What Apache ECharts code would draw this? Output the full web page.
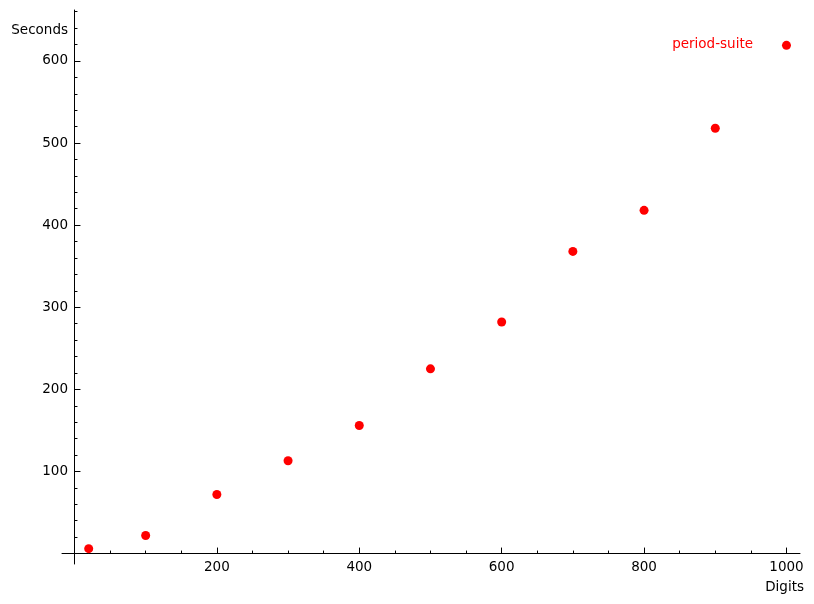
<!DOCTYPE html>
<html>
<head>
<meta charset="utf-8">
<script src="https://cdn.jsdelivr.net/npm/echarts@6/dist/echarts.min.js"></script>
<style>
  html, body { margin: 0; padding: 0; background: #fff; }
  #chart { width: 814px; height: 604px; }
</style>
</head>
<body>
<div id="chart"></div>
<script>
// data
var digits = [20, 100, 200, 300, 400, 500, 600, 700, 800, 900, 1000];
var seconds = [6, 22, 72, 113, 156, 225, 282, 368, 418, 518, 619];
var xMajorTicks = [200, 400, 600, 800, 1000];
var xMinorTicks = [50, 100, 150, 250, 300, 350, 450, 500, 550, 650, 700, 750, 850, 900, 950];
var yMajorTicks = [100, 200, 300, 400, 500, 600];
var yMinorTicks = [20, 40, 60, 80, 120, 140, 160, 180, 220, 240, 260, 280, 320, 340, 360, 380,
  420, 440, 460, 480, 520, 540, 560, 580, 620, 640, 660];
var seriesName = "period-suite";

var font = "DejaVu Sans";
var fontSize = 13.5;
var chart = echarts.init(document.getElementById("chart"));

var xRange = { min: -17.5, max: 1019 };
var yRange = { min: -12.7, max: 662 };

function plain(v) {
  return String(v);
}

var option = {
  animation: false,
  textStyle: { fontFamily: font },
  grid: {
    left: 62,
    right: 14,
    top: 10,
    bottom: 40,
    outerBoundsMode: "none",
  },
  xAxis: [
    {
      // major ticks + labels
      type: "value",
      min: xRange.min,
      max: xRange.max,
      position: "bottom",
      axisLine: { onZero: true, onZeroAxisIndex: 0, lineStyle: { color: "#000", width: 1 } },
      axisTick: { show: true, inside: true, length: 6, customValues: xMajorTicks, lineStyle: { color: "#000" } },
      axisLabel: { customValues: xMajorTicks, formatter: plain, color: "#000", fontSize: fontSize, fontFamily: font, margin: -4 },
      splitLine: { show: false },
    },
    {
      // minor ticks only
      type: "value",
      min: xRange.min,
      max: xRange.max,
      position: "bottom",
      axisLine: { show: false, onZero: true, onZeroAxisIndex: 0 },
      axisTick: { show: true, inside: true, length: 3, customValues: xMinorTicks, lineStyle: { color: "#000" } },
      axisLabel: { show: false },
      splitLine: { show: false },
    },
  ],
  yAxis: [
    {
      type: "value",
      min: yRange.min,
      max: yRange.max,
      position: "left",
      axisLine: { show: true, onZero: true, onZeroAxisIndex: 0, lineStyle: { color: "#000", width: 1 } },
      axisTick: { show: true, inside: true, length: 6, customValues: yMajorTicks, lineStyle: { color: "#000" } },
      axisLabel: { customValues: yMajorTicks, formatter: plain, color: "#000", fontSize: fontSize, fontFamily: font, margin: -6 },
      splitLine: { show: false },
    },
    {
      type: "value",
      min: yRange.min,
      max: yRange.max,
      position: "left",
      axisLine: { show: false, onZero: true, onZeroAxisIndex: 0 },
      axisTick: { show: true, inside: true, length: 3, customValues: yMinorTicks, lineStyle: { color: "#000" } },
      axisLabel: { show: false },
      splitLine: { show: false },
    },
  ],
  graphic: [
    {
      type: "text",
      right: 814 - 68,
      top: 23,
      style: { text: "Seconds", fill: "#000", font: fontSize + "px " + font, textAlign: "right" },
    },
    {
      type: "text",
      right: 814 - 804,
      top: 580,
      style: { text: "Digits", fill: "#000", font: fontSize + "px " + font, textAlign: "right" },
    },
    {
      type: "text",
      right: 814 - 753,
      top: 37,
      style: { text: seriesName, fill: "#ff0000", font: fontSize + "px " + font, textAlign: "right" },
    },
  ],
  series: [
    {
      name: seriesName,
      type: "scatter",
      xAxisIndex: 0,
      yAxisIndex: 0,
      symbol: "circle",
      symbolSize: 9,
      itemStyle: { color: "#ff0000", opacity: 1 },
      data: digits.map(function (d, i) { return [d, seconds[i]]; }),
    },
  ],
};
chart.setOption(option);
</script>
</body>
</html>
